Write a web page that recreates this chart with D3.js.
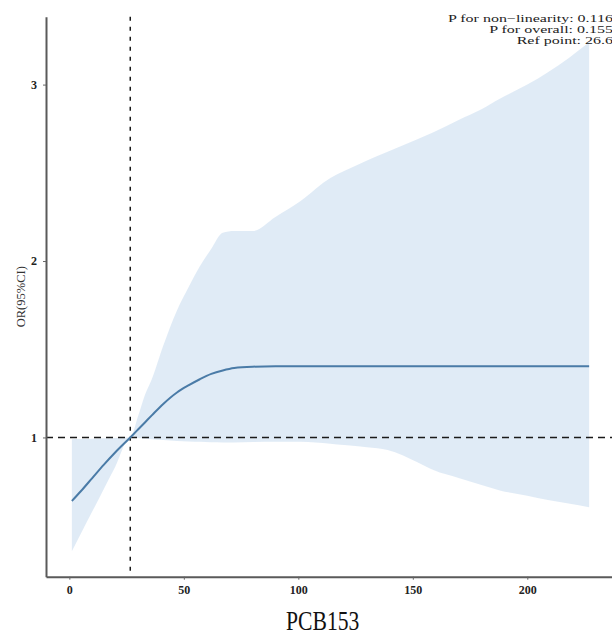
<!DOCTYPE html>
<html>
<head>
<meta charset="utf-8">
<script src="https://cdn.jsdelivr.net/npm/d3@7"></script>
<style>
  body { margin: 0; background: #fff; }
  svg { display: block; overflow: hidden; }
  text { font-family: "Liberation Serif", "Times New Roman", serif; }
</style>
</head>
<body>
<div id="chart"></div>
<script>
// Restricted cubic spline: odds ratio for PCB153 with 95% CI
const pcb = [1.1, 5, 10, 15, 20, 26.6, 30, 33, 36, 41, 47, 52, 57, 62, 67, 72, 80, 90, 101, 114, 120, 130, 139, 152, 159, 170, 180, 188, 200, 209, 218, 227];
const orValue = [0.64, 0.695, 0.77, 0.845, 0.915, 1.0, 1.045, 1.085, 1.125, 1.19, 1.255, 1.295, 1.33, 1.36, 1.38, 1.394, 1.401, 1.403, 1.403, 1.403, 1.403, 1.403, 1.403, 1.403, 1.403, 1.403, 1.403, 1.403, 1.403, 1.403, 1.403, 1.403];
const ciLower = [0.355, 0.454, 0.58, 0.707, 0.833, 1.0, 0.997, 0.993, 0.99, 0.985, 0.98, 0.977, 0.975, 0.973, 0.972, 0.972, 0.974, 0.976, 0.976, 0.965, 0.957, 0.945, 0.929, 0.86, 0.815, 0.77, 0.73, 0.70, 0.67, 0.645, 0.625, 0.605];
const ciUpper = [0.99, 0.991, 0.993, 0.995, 0.997, 1.0, 1.12, 1.24, 1.33, 1.52, 1.72, 1.85, 1.97, 2.07, 2.16, 2.17, 2.17, 2.25, 2.34, 2.47, 2.51, 2.57, 2.62, 2.69, 2.73, 2.80, 2.86, 2.92, 3.00, 3.07, 3.15, 3.24];
const xTicks = [0, 50, 100, 150, 200];
const yTicks = [1, 2, 3];
const refPoint = 26.6;
const annotation = ["P for non\u2212linearity: 0.116", "P for overall: 0.155", "Ref point: 26.6"];
const xTitle = "PCB153";
const yTitle = "OR(95%CI)";

const W = 612, H = 640;
const panel = { left: 46, right: 615, top: 16.8, bottom: 576.7 };

const rows = pcb.map((x, i) => ({ x, or: orValue[i], lo: ciLower[i], hi: ciUpper[i] }));

// 5% padding on each side of the data range
function padded(lo, hi) { const r = hi - lo; return [lo - 0.05 * r, hi + 0.05 * r]; }

const x = d3.scaleLinear()
  .domain(padded(d3.min(pcb), d3.max(pcb)))
  .range([panel.left, panel.right]);
const y = d3.scaleLinear()
  .domain(padded(d3.min(ciLower), d3.max(ciUpper)))
  .range([panel.bottom, panel.top]);

const svg = d3.select("#chart").append("svg")
  .attr("width", W).attr("height", H);

// confidence band
svg.append("path")
  .datum(rows)
  .attr("fill", "#5b96cf")
  .attr("fill-opacity", 0.19)
  .attr("d", d3.area().x(d => x(d.x)).y0(d => y(d.lo)).y1(d => y(d.hi)).curve(d3.curveMonotoneX));

// reference lines
svg.append("line")
  .attr("x1", panel.left).attr("x2", W + 10)
  .attr("y1", y(1)).attr("y2", y(1))
  .attr("stroke", "#1a1a1a").attr("stroke-width", 1.5)
  .attr("stroke-dasharray", "7,5");
svg.append("line")
  .attr("x1", x(refPoint)).attr("x2", x(refPoint))
  .attr("y1", panel.top).attr("y2", panel.bottom)
  .attr("stroke", "#1a1a1a").attr("stroke-width", 1.5)
  .attr("stroke-dasharray", "4,6");

// odds ratio curve
svg.append("path")
  .datum(rows)
  .attr("fill", "none")
  .attr("stroke", "#4a7ba7")
  .attr("stroke-width", 2)
  .attr("d", d3.line().x(d => x(d.x)).y(d => y(d.or)).curve(d3.curveMonotoneX));

// axes
const xAxis = svg.append("g")
  .attr("transform", `translate(0,${panel.bottom})`)
  .call(d3.axisBottom(x).tickValues(xTicks).tickFormat(d3.format("d")).tickSize(3).tickPadding(6).tickSizeOuter(0));
const yAxis = svg.append("g")
  .attr("transform", `translate(${panel.left},0)`)
  .call(d3.axisLeft(y).tickValues(yTicks).tickFormat(d3.format("d")).tickSize(3).tickPadding(6).tickSizeOuter(0));

[xAxis, yAxis].forEach(g => {
  g.select(".domain").attr("stroke", "#5a5a5a").attr("stroke-width", 2);
  g.selectAll(".tick line").attr("stroke", "#666").attr("stroke-width", 1);
  g.selectAll(".tick text")
    .attr("fill", "#222")
    .style("font-family", "'Liberation Serif', serif")
    .style("font-weight", "bold")
    .style("font-size", "12px");
});

// axis titles
svg.append("text")
  .attr("transform", "translate(322.7,630) scale(1,1.28)")
  .attr("text-anchor", "middle")
  .attr("fill", "#111")
  .style("font-size", "21.6px")
  .text(xTitle);

svg.append("text")
  .attr("transform", `translate(25,${(panel.top + panel.bottom) / 2}) rotate(-90)`)
  .attr("text-anchor", "middle")
  .attr("fill", "#333")
  .style("font-size", "12.5px")
  .text(yTitle);

// statistics annotation, right aligned in the panel corner
const baselines = [21.5, 32.9, 44.3];
annotation.forEach((t, i) => {
  svg.append("text")
    .attr("transform", `translate(613,${baselines[i]}) scale(1,0.64)`)
    .attr("text-anchor", "end")
    .attr("fill", "#222")
    .style("font-size", "16px")
    .text(t);
});
</script>
</body>
</html>
